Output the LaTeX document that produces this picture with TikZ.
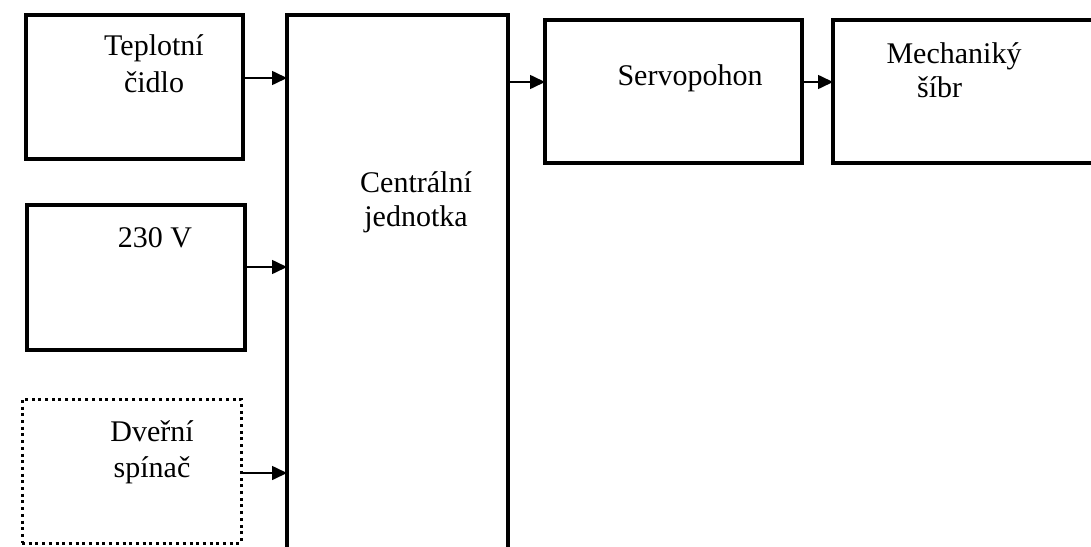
\documentclass[tikz,border=0pt]{standalone}
\usepackage{fontspec}
\setmainfont{Liberation Serif}
\usetikzlibrary{arrows.meta}
\begin{document}
\begin{tikzpicture}[x=1pt,y=-1pt,
  box/.style={draw, line width=3.2pt, rectangle, inner sep=0pt, outer sep=0pt},
  dotbox/.style={draw, line width=3pt, rectangle, inner sep=0pt, outer sep=0pt, dash pattern=on 3pt off 3.7pt},
  lbl/.style={font=\fontsize{30}{36}\selectfont, inner sep=0pt, anchor=base},
  arr/.style={line width=1.6pt, -{Triangle[length=15pt,width=14pt]}}]
\useasboundingbox (0,0) rectangle (1091,546);
\clip (0,0) rectangle (1091,546);
\fill[white] (0,0) rectangle (1091,546);
% boxes
\node[box, minimum width=217pt, minimum height=144pt] (T) at (134.5,87) {};
\node[box, minimum width=218pt, minimum height=145pt] (V) at (136,277.5) {};
\node[dotbox, minimum width=219pt, minimum height=144pt] (D) at (131.5,471) {};
\node[box, minimum width=221pt, minimum height=600pt] (C) at (397.5,315) {};
\node[box, minimum width=257pt, minimum height=143pt] (S) at (673.5,91.5) {};
\node[box, minimum width=300pt, minimum height=143pt] (M) at (983,91.5) {};
% labels
\node[lbl] (t1) at (154,55) {Teplotní};
\node[lbl] (t2) at (154,92) {čidlo};
\node[lbl] (v1) at (155,247) {230 V};
\node[lbl] (d1) at (152,441) {Dveřní};
\node[lbl] (d2) at (152,477) {spínač};
\node[lbl] (c1) at (416,192) {Centrální};
\node[lbl] (c2) at (416,226) {jednotka};
\node[lbl] (s1) at (690,85) {Servopohon};
\node[lbl] (m1) at (954,63) {Mechaniký};
\node[lbl, anchor=base west] (m2) at (917,97) {šíbr};
% connectors
\coordinate (a1) at ([yshift=9pt]T.east);
\coordinate (a2) at ([yshift=10.5pt]V.east);
\coordinate (a3) at ([yshift=-2pt]D.east);
\coordinate (a4) at (C.east |- 0,82);
\coordinate (a5) at ([yshift=9.5pt]S.east);
\draw[arr] (a1) -- (a1 -| C.west);
\draw[arr] (a2) -- (a2 -| C.west);
\draw[arr] (a3) -- (a3 -| C.west);
\draw[arr] (a4) -- (a4 -| S.west);
\draw[arr] (a5) -- (a5 -| M.west);
\end{tikzpicture}
\end{document}
